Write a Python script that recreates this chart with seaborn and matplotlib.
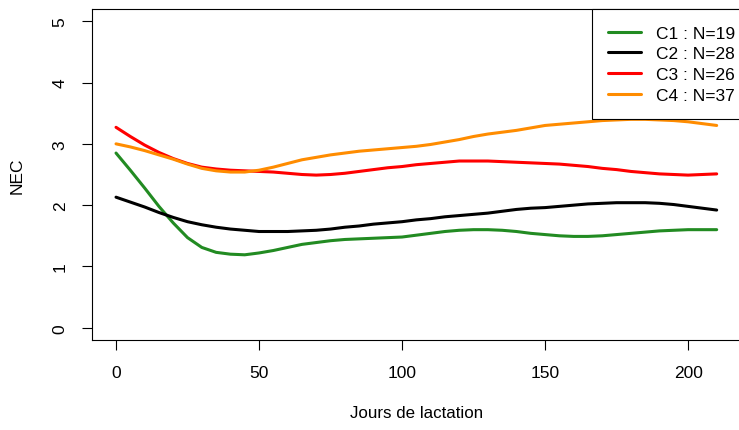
import matplotlib
matplotlib.use("Agg")
import matplotlib.pyplot as plt
import pandas as pd
import seaborn as sns

# Days of lactation (sampled every 5 days)
days = list(range(0, 211, 5))

# Smoothed NEC trajectories per cluster
c1 = [2.85, 2.57, 2.28, 1.98, 1.71, 1.47, 1.31, 1.23, 1.20, 1.19, 1.22,
      1.26, 1.31, 1.36, 1.39, 1.42, 1.44, 1.45, 1.46, 1.47, 1.48, 1.51,
      1.54, 1.57, 1.59, 1.60, 1.60, 1.59, 1.57, 1.54, 1.52, 1.50, 1.49,
      1.49, 1.50, 1.52, 1.54, 1.56, 1.58, 1.59, 1.60, 1.60, 1.60]
c2 = [2.13, 2.05, 1.97, 1.88, 1.80, 1.73, 1.68, 1.64, 1.61, 1.59, 1.57,
      1.57, 1.57, 1.58, 1.59, 1.61, 1.64, 1.66, 1.69, 1.71, 1.73, 1.76,
      1.78, 1.81, 1.83, 1.85, 1.87, 1.90, 1.93, 1.95, 1.96, 1.98, 2.00,
      2.02, 2.03, 2.04, 2.04, 2.04, 2.03, 2.01, 1.98, 1.95, 1.92]
c3 = [3.27, 3.12, 2.98, 2.86, 2.76, 2.68, 2.62, 2.59, 2.57, 2.56, 2.55,
      2.54, 2.52, 2.50, 2.49, 2.50, 2.52, 2.55, 2.58, 2.61, 2.63, 2.66,
      2.68, 2.70, 2.72, 2.72, 2.72, 2.71, 2.70, 2.69, 2.68, 2.67, 2.65,
      2.63, 2.60, 2.58, 2.55, 2.53, 2.51, 2.50, 2.49, 2.50, 2.51]
c4 = [3.00, 2.95, 2.89, 2.82, 2.75, 2.67, 2.60, 2.56, 2.54, 2.54, 2.57,
      2.62, 2.68, 2.74, 2.78, 2.82, 2.85, 2.88, 2.90, 2.92, 2.94, 2.96,
      2.99, 3.03, 3.07, 3.12, 3.16, 3.19, 3.22, 3.26, 3.30, 3.32, 3.34,
      3.36, 3.38, 3.39, 3.40, 3.40, 3.39, 3.38, 3.36, 3.33, 3.30]

labels = ["C1 : N=19", "C2 : N=28", "C3 : N=26", "C4 : N=37"]
colors = ["#228B22", "#000000", "#FF0000", "#FF8C00"]

x_ticks = [0, 50, 100, 150, 200]
y_ticks = [0, 1, 2, 3, 4, 5]

frames = []
for lab, vals in zip(labels, [c1, c2, c3, c4]):
    frames.append(pd.DataFrame({"Jours": days, "NEC": vals, "Groupe": lab}))
df = pd.concat(frames, ignore_index=True)

sns.set_style("ticks")
plt.rcParams["font.family"] = ["Liberation Sans", "DejaVu Sans"]
plt.rcParams["text.color"] = "black"

W, H = 739, 431
AX_L, AX_B, AX_W, AX_H = 92, 90, 648.7, 331
fig = plt.figure(figsize=(W / 100, H / 100), dpi=100)
fig.patch.set_facecolor("white")
ax = fig.add_axes([AX_L / W, AX_B / H, AX_W / W, AX_H / H])

sns.lineplot(data=df, x="Jours", y="NEC", hue="Groupe", hue_order=labels,
             palette=dict(zip(labels, colors)), linewidth=2.2,
             estimator=None, sort=False, legend=False, ax=ax)

ax.set_xlim(-8.4, 218.4)
ax.set_ylim(-0.2, 5.2)
ax.set_xticks(x_ticks)
ax.set_yticks(y_ticks)
ax.set_xticklabels([str(v) for v in x_ticks])
ax.set_yticklabels([str(v) for v in y_ticks])

for side in ["left", "top", "bottom"]:
    ax.spines[side].set_visible(True)
    ax.spines[side].set_color("black")
    ax.spines[side].set_linewidth(0.8)
ax.spines["right"].set_visible(False)

ax.tick_params(axis="both", direction="out", length=7.5, width=0.8,
               colors="black", labelsize=12.5)
ax.tick_params(axis="x", pad=10.5)
ax.tick_params(axis="y", pad=10, labelrotation=90)
for t in ax.get_yticklabels():
    t.set_verticalalignment("center")

ax.set_xlabel("Jours de lactation", fontsize=12.2, color="black")
ax.set_ylabel("NEC", fontsize=12.5, color="black")
ax.xaxis.set_label_coords(0.5, -(414 - 341) / AX_H)
ax.xaxis.label.set_verticalalignment("center")
ax.yaxis.set_label_coords(-(AX_L - 17) / AX_W, 0.5)
ax.yaxis.label.set_verticalalignment("center")

leg = ax.legend(ax.get_lines()[:4], labels, loc="upper left",
                bbox_to_anchor=(591.7 / W, 1 - 10 / H),
                bbox_transform=fig.transFigure, borderaxespad=0,
                frameon=True, fancybox=False, framealpha=1,
                edgecolor="black", fontsize=12.5, borderpad=0.95,
                handlelength=1.91, handletextpad=0.85, labelspacing=0.32)
leg.get_frame().set_linewidth(0.8)

fig.savefig("out.png", dpi=100, facecolor="white")
